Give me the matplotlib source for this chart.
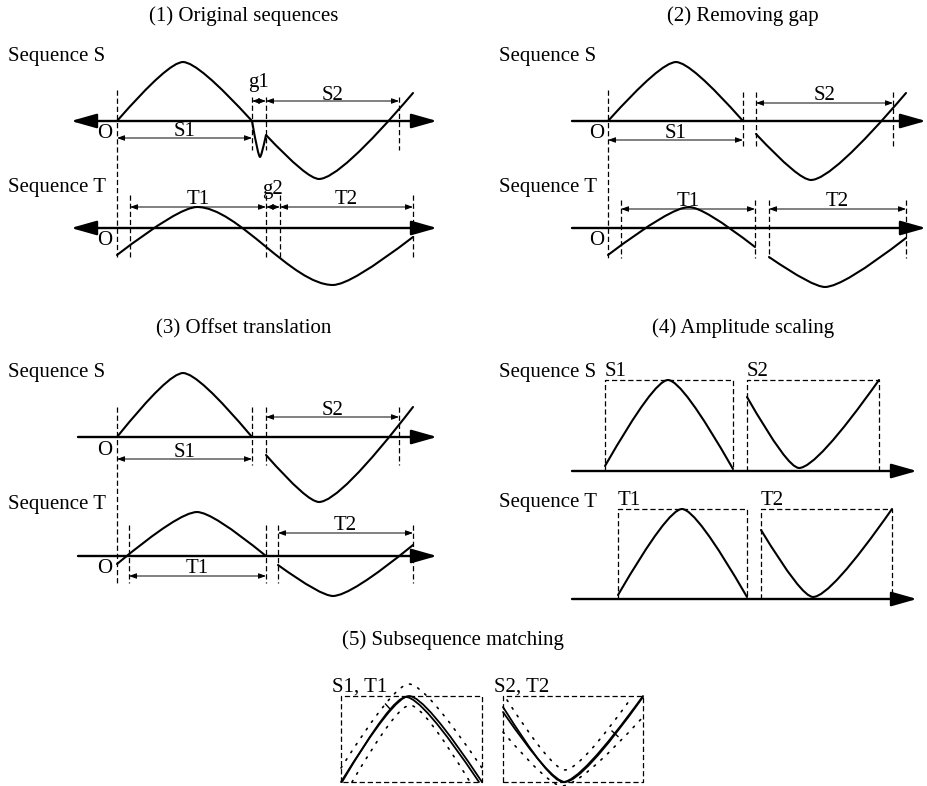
import matplotlib
matplotlib.use("Agg")
import matplotlib.pyplot as plt
from matplotlib.path import Path
from matplotlib.patches import PathPatch
from matplotlib.transforms import Affine2D

# ------------------------------------------------------------------ data
# local units: x = distance right of the row origin, y = height above the time axis
titles = ["(1) Original sequences", "(2) Removing gap", "(3) Offset translation",
          "(4) Amplitude scaling", "(5) Subsequence matching"]
row_names = ["Sequence S", "Sequence T"]

# knots of each curve: x, y, and whether the knot is a peak/trough (1) or not (0)
p1_S_x = [0, 66, 135, 143, 149, 202, 296]
p1_S_y = [0, 59, 0, -36, -14, -58, 28]
p1_S_ext = [0, 1, 0, 1, 0, 1, 0]
p1_T_x = [0, 80, 216, 296]
p1_T_y = [-27, 21, -57, -9]
p1_T_ext = [0, 1, 1, 0]
p1_S_bounds = [135, 149, 282]
p1_T_bounds = [13, 149, 163, 296]
p1_S_spans = [("S1", 0, 135), ("g1", 135, 149), ("S2", 149, 282)]
p1_T_spans = [("T1", 13, 149), ("g2", 149, 163), ("T2", 163, 296)]

p2_S1_x, p2_S1_y, p2_S1_ext = [0, 68, 135], [0, 59, 0], [0, 1, 0]
p2_S2_x, p2_S2_y, p2_S2_ext = [148, 203, 298], [-13, -59, 28], [0, 1, 0]
p2_T1_x, p2_T1_y, p2_T1_ext = [0, 81, 147], [-27, 21, -19], [0, 1, 0]
p2_T2_x, p2_T2_y, p2_T2_ext = [161, 217, 298], [-29, -59, -10], [0, 1, 0]
p2_S_bounds = [135, 148, 285]
p2_T_bounds = [13, 147, 161, 298]
p2_S_spans = [("S1", 0, 135), ("S2", 148, 285)]
p2_T_spans = [("T1", 13, 147), ("T2", 161, 298)]

p3_S1_x, p3_S1_y, p3_S1_ext = [0, 66, 135], [0, 64, 0], [0, 1, 0]
p3_S2_x, p3_S2_y, p3_S2_ext = [149, 202, 296], [-18, -65, 30], [0, 1, 0]
p3_T1_x, p3_T1_y, p3_T1_ext = [0, 80, 149], [-8, 44, 0], [0, 1, 0]
p3_T2_x, p3_T2_y, p3_T2_ext = [161, 216, 296], [-9, -40, 11], [0, 1, 0]
p3_S_bounds = [135, 149, 282]
p3_T_bounds = [12, 149, 161, 296]
p3_S_spans = [("S1", 0, 135), ("S2", 149, 282)]
p3_T_spans = [("T1", 12, 149), ("T2", 161, 296)]

# panel 4: scaled segments inside their boxes (left, right, top)
p4_S_boxes = [("S1", 33, 161, 91), ("S2", 175, 307, 91)]
p4_T_boxes = [("T1", 46, 175, 90), ("T2", 189, 320, 90)]
p4_S1_x, p4_S1_y = [33, 96, 161], [5, 91, 2]
p4_S2_x, p4_S2_y = [175, 227, 307], [74, 3, 91]
p4_T1_x, p4_T1_y = [46, 110, 175], [4, 90, 2]
p4_T2_x, p4_T2_y = [189, 241, 320], [69, 2, 90]
p4_ext = [0, 1, 0]

# panel 5: normalised pairs, box width / height
p5_labels = ["S1, T1", "S2, T2"]
p5_box_w, p5_box_h = [141, 140], 86
p5_a_S_x, p5_a_S_y = [0, 68, 141], [0, 86, 0]
p5_a_T_x, p5_a_T_y = [1, 65, 138], [0, 85, 0]
p5_a_up_x, p5_a_up_y = [0, 68, 141], [14, 98, 14]
p5_a_lo_x, p5_a_lo_y = [11, 69, 129], [0, 77, 0]
p5_b_S_x, p5_b_S_y = [0, 60, 140], [75, 0, 86]
p5_b_T_x, p5_b_T_y = [0, 62, 140], [70, 0, 85]
p5_b_up_x, p5_b_up_y = [4, 62, 129], [82, 12, 85]
p5_b_lo_x, p5_b_lo_y = [0, 59, 140], [50, -4, 65]
p5_ext = [0, 1, 0]

# ------------------------------------------------------------------ drawing helpers
FONT = "Liberation Serif"
FS = 15
DASH = (0, (4.2, 2.3))
K_Q = 0.22   # handle length (fraction of span) next to a peak/trough, quadratic
K_C = 0.30   # handle length for peak-to-trough cubic

fig = plt.figure(figsize=(9.27, 7.86), dpi=100)
ax = fig.add_axes([0, 0, 1, 1])
ax.set_xlim(0, 927)
ax.set_ylim(786, 0)
ax.set_autoscale_on(False)
ax.axis("off")


def local(ox, oy):
    return Affine2D().scale(1, -1).translate(ox, oy) + ax.transData


def sine_path(xs, ys, ext):
    verts = [(xs[0], ys[0])]
    codes = [Path.MOVETO]
    for i in range(len(xs) - 1):
        x0, y0, x1, y1 = xs[i], ys[i], xs[i + 1], ys[i + 1]
        dx = x1 - x0
        if ext[i] and ext[i + 1]:
            verts += [(x0 + K_C * dx, y0), (x1 - K_C * dx, y1), (x1, y1)]
            codes += [Path.CURVE4] * 3
        elif ext[i]:
            verts += [(x0 + K_Q * dx, y0), (x1, y1)]
            codes += [Path.CURVE3] * 2
        elif ext[i + 1]:
            verts += [(x1 - K_Q * dx, y1), (x1, y1)]
            codes += [Path.CURVE3] * 2
        else:
            verts.append((x1, y1))
            codes.append(Path.LINETO)
    return Path(verts, codes)


def curve(tr, xs, ys, ext, lw=1.5, ls="-"):
    ax.add_patch(PathPatch(sine_path(xs, ys, ext), fill=False, ec="black", lw=lw,
                           ls=ls, transform=tr, capstyle="round", joinstyle="round"))


def txt(tr, x, y, s, ha="center"):
    ax.text(x, y, s, transform=tr, ha=ha, va="baseline", fontsize=FS,
            family=FONT, color="black")


def axis_arrow(tr, x0, x1, both):
    style = ("<|-|>" if both else "-|>") + ",head_length=0.6,head_width=0.17"
    ax.annotate("", xy=(x1, 0), xytext=(x0, 0), xycoords=tr, textcoords=tr,
                arrowprops=dict(arrowstyle=style, mutation_scale=26, lw=1.7,
                                color="black", shrinkA=0, shrinkB=0))


def dim_arrow(tr, x0, x1, y):
    ax.annotate("", xy=(x1, y), xytext=(x0, y), xycoords=tr, textcoords=tr,
                arrowprops=dict(arrowstyle="<|-|>,head_length=0.55,head_width=0.2",
                                mutation_scale=8, lw=0.7, color="black",
                                shrinkA=0, shrinkB=0))


def vdash(tr, x, y0, y1):
    ax.plot([x, x], [y0, y1], transform=tr, color="black", lw=0.9, ls=DASH)


def spans(tr, items, arrow_y, lab_y, gap_lab_y=None):
    for name, a, b in items:
        dim_arrow(tr, a, b, arrow_y)
        ly = gap_lab_y if (name.startswith("g") and gap_lab_y is not None) else lab_y
        txt(tr, (a + b) / 2, ly, name)


# ------------------------------------------------------------------ panel 1
trS, trT = local(117, 121), local(117, 228)
ax.text(244, 21, titles[0], ha="center", va="baseline", fontsize=FS, family=FONT)
ax.text(8, 61, row_names[0], ha="left", va="baseline", fontsize=FS, family=FONT)
ax.text(8, 192, row_names[1], ha="left", va="baseline", fontsize=FS, family=FONT)
axis_arrow(trS, -46, 320, True)
axis_arrow(trT, -46, 320, True)
vdash(trS, 0, 31, -136)
for b in p1_S_bounds:
    vdash(trS, b, 24, -29)
for b in p1_T_bounds:
    vdash(trT, b, 33, -29)
curve(trS, p1_S_x, p1_S_y, p1_S_ext)
curve(trT, p1_T_x, p1_T_y, p1_T_ext)
txt(trS, -12, -17, "O")
txt(trT, -12, -17, "O")
spans(trS, p1_S_spans[:1], -17, -15)
spans(trS, p1_S_spans[1:], 20, 21.5, gap_lab_y=34)
spans(trT, p1_T_spans, 21, 24, gap_lab_y=34)

# ------------------------------------------------------------------ panel 2
trS, trT = local(608, 121), local(608, 228)
ax.text(743, 21, titles[1], ha="center", va="baseline", fontsize=FS, family=FONT)
ax.text(499, 61, row_names[0], ha="left", va="baseline", fontsize=FS, family=FONT)
ax.text(499, 192, row_names[1], ha="left", va="baseline", fontsize=FS, family=FONT)
axis_arrow(trS, -36, 318, False)
axis_arrow(trT, -36, 318, False)
vdash(trS, 0, 31, -137)
for b in p2_S_bounds:
    vdash(trS, b, 29, -27)
for b in p2_T_bounds:
    vdash(trT, b, 28, -30)
curve(trS, p2_S1_x, p2_S1_y, p2_S1_ext)
curve(trS, p2_S2_x, p2_S2_y, p2_S2_ext)
curve(trT, p2_T1_x, p2_T1_y, p2_T1_ext)
curve(trT, p2_T2_x, p2_T2_y, p2_T2_ext)
txt(trS, -11, -17, "O")
txt(trT, -11, -17, "O")
spans(trS, p2_S_spans[:1], -19, -17)
spans(trS, p2_S_spans[1:], 18, 21)
spans(trT, p2_T_spans, 19, 22)

# ------------------------------------------------------------------ panel 3
trS, trT = local(117, 437), local(117, 556)
ax.text(244, 333, titles[2], ha="center", va="baseline", fontsize=FS, family=FONT)
ax.text(8, 377, row_names[0], ha="left", va="baseline", fontsize=FS, family=FONT)
ax.text(8, 509, row_names[1], ha="left", va="baseline", fontsize=FS, family=FONT)
axis_arrow(trS, -39, 320, False)
axis_arrow(trT, -39, 320, False)
vdash(trS, 0, 30, -148)
for b in p3_S_bounds:
    vdash(trS, b, 30, -28)
for b in p3_T_bounds:
    vdash(trT, b, 31, -27)
curve(trS, p3_S1_x, p3_S1_y, p3_S1_ext)
curve(trS, p3_S2_x, p3_S2_y, p3_S2_ext)
curve(trT, p3_T1_x, p3_T1_y, p3_T1_ext)
curve(trT, p3_T2_x, p3_T2_y, p3_T2_ext)
txt(trS, -12, -18, "O")
txt(trT, -12, -17, "O")
spans(trS, p3_S_spans[:1], -22, -20)
spans(trS, p3_S_spans[1:], 20, 22)
spans(trT, p3_T_spans[:1], -20, -17)
spans(trT, p3_T_spans[1:], 23, 26)

# ------------------------------------------------------------------ panel 4
trS, trT = local(572, 471), local(572, 599)
ax.text(743, 333, titles[3], ha="center", va="baseline", fontsize=FS, family=FONT)
ax.text(499, 377, row_names[0], ha="left", va="baseline", fontsize=FS, family=FONT)
ax.text(499, 507, row_names[1], ha="left", va="baseline", fontsize=FS, family=FONT)
axis_arrow(trS, 0, 345, False)
axis_arrow(trT, 0, 345, False)
for tr, boxes in ((trS, p4_S_boxes), (trT, p4_T_boxes)):
    for name, l, r, top in boxes:
        ax.plot([l, l, r, r], [0, top, top, 0], transform=tr, color="black",
                lw=0.9, ls=DASH)
        txt(tr, l, top + 4, name, ha="left")
curve(trS, p4_S1_x, p4_S1_y, p4_ext)
curve(trS, p4_S2_x, p4_S2_y, p4_ext)
curve(trT, p4_T1_x, p4_T1_y, p4_ext)
curve(trT, p4_T2_x, p4_T2_y, p4_ext)

# ------------------------------------------------------------------ panel 5
ax.text(453, 645, titles[4], ha="center", va="baseline", fontsize=FS, family=FONT)
trA, trB = local(341, 782), local(503, 782)
DOT = (0, (1.0, 4.5))
for tr, w, lab in ((trA, p5_box_w[0], p5_labels[0]), (trB, p5_box_w[1], p5_labels[1])):
    ax.plot([0, 0, w, w, 0], [0, p5_box_h, p5_box_h, 0, 0], transform=tr,
            color="black", lw=0.9, ls=DASH)
    txt(tr, -9, p5_box_h + 4, lab, ha="left")
curve(trA, p5_a_S_x, p5_a_S_y, p5_ext, lw=1.3)
curve(trA, p5_a_T_x, p5_a_T_y, p5_ext, lw=1.3)
curve(trA, p5_a_up_x, p5_a_up_y, p5_ext, lw=1.2, ls=DOT)
curve(trA, p5_a_lo_x, p5_a_lo_y, p5_ext, lw=1.2, ls=DOT)
curve(trB, p5_b_S_x, p5_b_S_y, p5_ext, lw=1.3)
curve(trB, p5_b_T_x, p5_b_T_y, p5_ext, lw=1.3)
curve(trB, p5_b_up_x, p5_b_up_y, p5_ext, lw=1.2, ls=DOT)
curve(trB, p5_b_lo_x, p5_b_lo_y, p5_ext, lw=1.2, ls=DOT)
# small crossing ticks on the matched curves
ax.plot([44.5, 49.5], [78, 72.5], transform=trA, color="black", lw=1.0)
ax.plot([109, 115], [51, 45.5], transform=trB, color="black", lw=1.0)

fig.savefig("out.png", dpi=100, facecolor="white")
